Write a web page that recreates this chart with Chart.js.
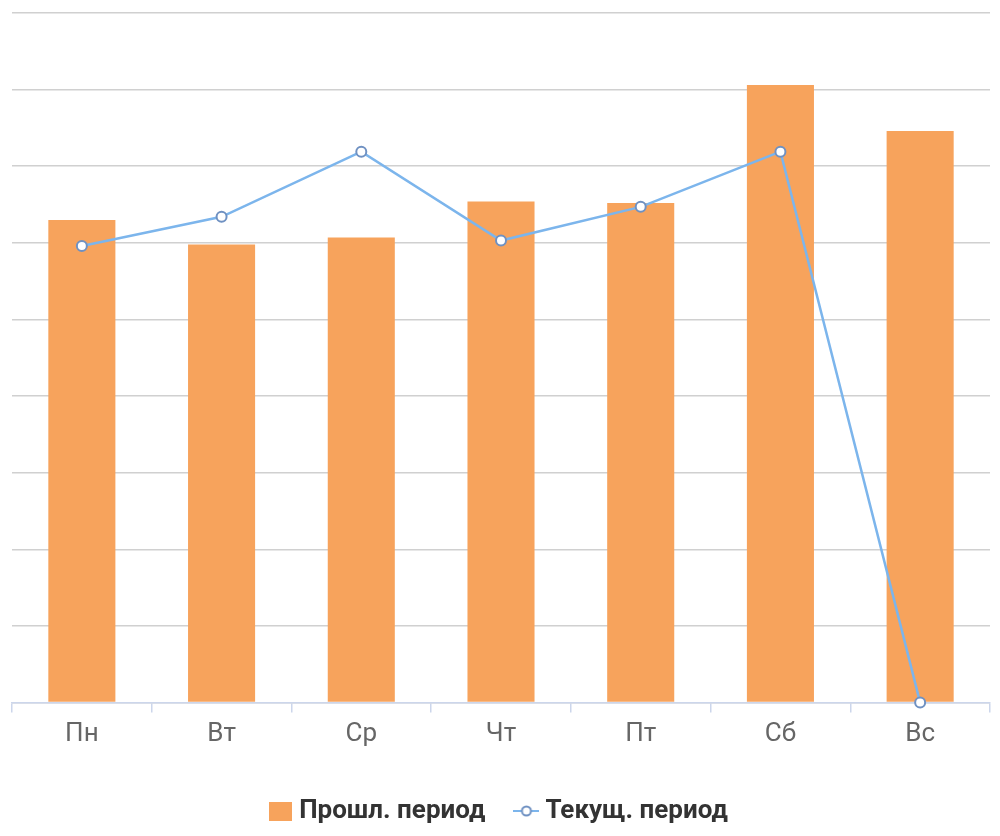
<!DOCTYPE html>
<html>
<head>
<meta charset="utf-8">
<title>Прошл. / Текущ. период</title>
<script src="https://cdn.jsdelivr.net/npm/chart.js@4/dist/chart.umd.min.js"></script>
<style>
    html, body { margin: 0; padding: 0; background: #fff; }
    #wrap { width: 1000px; height: 836px; position: relative; }
</style>
</head>
<body>
<div id="wrap"><canvas id="weekChart"></canvas></div>
<script>
// Data (one grid step = 1 unit)
const days = ['Пн', 'Вт', 'Ср', 'Чт', 'Пт', 'Сб', 'Вс'];
const prevPeriod = [6.30, 5.98, 6.07, 6.54, 6.52, 8.06, 7.46];
const currPeriod = [5.96, 6.34, 7.19, 6.03, 6.47, 7.19, 0];

const barColor = '#f7a35c';
const lineColor = '#7cb5ec';
const markerBorder = '#6f91c2';

// Small legend symbols
function makeSquareIcon() {
    const c = document.createElement('canvas');
    c.width = 23; c.height = 19;
    const g = c.getContext('2d');
    g.fillStyle = barColor;
    g.fillRect(0, 0, 23, 19);
    return c;
}

function makeLineIcon() {
    const c = document.createElement('canvas');
    c.width = 26; c.height = 14;
    const g = c.getContext('2d');
    g.strokeStyle = lineColor;
    g.lineWidth = 2;
    g.beginPath();
    g.moveTo(0, 7); g.lineTo(26, 7);
    g.stroke();
    g.beginPath();
    g.arc(13, 7, 4.5, 0, Math.PI * 2);
    g.fillStyle = '#fff';
    g.fill();
    g.strokeStyle = markerBorder;
    g.lineWidth = 2;
    g.stroke();
    return c;
}

const icons = [makeSquareIcon(), makeLineIcon()];

const ctx = document.getElementById('weekChart').getContext('2d');

new Chart(ctx, {
    data: {
        labels: days,
        datasets: [
            {
                type: 'line',
                label: 'Текущ. период',
                data: currPeriod,
                borderColor: lineColor,
                borderWidth: 2.5,
                pointRadius: 5,
                pointBorderWidth: 2,
                pointBackgroundColor: '#fff',
                pointBorderColor: markerBorder,
                tension: 0,
                clip: false,
                order: 1
            },
            {
                type: 'bar',
                label: 'Прошл. период',
                data: prevPeriod,
                backgroundColor: barColor,
                barPercentage: 0.48,
                categoryPercentage: 1,
                order: 2
            }
        ]
    },
    options: {
        responsive: true,
        maintainAspectRatio: false,
        animation: false,
        layout: { padding: { left: 12, right: 10, top: 13, bottom: 2 } },
        scales: {
            x: {
                offset: true,
                grid: {
                    offset: true,
                    drawOnChartArea: false,
                    drawTicks: true,
                    tickLength: 10,
                    color: '#ccd6eb',
                    lineWidth: 1.5
                },
                border: { display: true, color: '#ccd6eb', width: 1.5 },
                ticks: {
                    color: '#666',
                    padding: 6,
                    font: { family: 'Roboto, sans-serif', size: 26 }
                }
            },
            y: {
                min: 0,
                max: 9,
                ticks: { display: false, stepSize: 1 },
                grid: { color: '#d0d0d0', lineWidth: 1.5, drawTicks: false },
                border: { display: false }
            }
        },
        plugins: {
            tooltip: { enabled: false },
            legend: {
                position: 'bottom',
                // empty title used only as a spacer above the legend items
                title: {
                    display: true,
                    text: '',
                    font: { size: 1 },
                    padding: { top: 6, bottom: 0 }
                },
                labels: {
                    usePointStyle: true,
                    pointStyleWidth: 12,
                    color: '#333',
                    padding: 35,
                    font: { family: 'Roboto, sans-serif', size: 26, weight: 'bold' },
                    generateLabels: (chart) => {
                        const ds = chart.data.datasets;
                        return [1, 0].map((i, k) => ({
                            text: ds[i].label,
                            pointStyle: icons[k],
                            fontColor: '#333',
                            datasetIndex: i,
                            hidden: false,
                            lineWidth: 0
                        }));
                    }
                }
            }
        }
    }
});
</script>
</body>
</html>
